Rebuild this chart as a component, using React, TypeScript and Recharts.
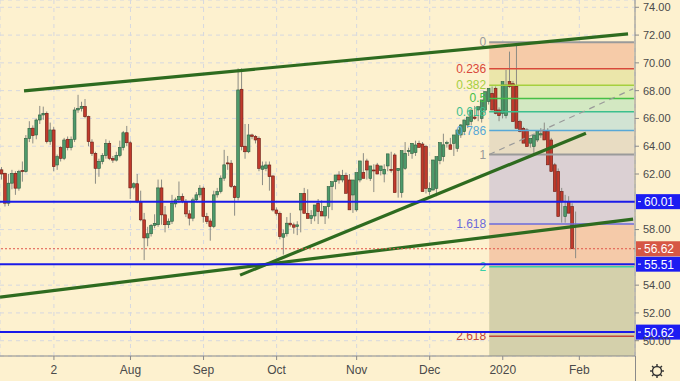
import {
  ComposedChart,
  Bar,
  XAxis,
  YAxis,
  CartesianGrid,
  ReferenceLine,
  ReferenceArea,
} from 'recharts'

// Daily candles, index 0 = mid June 2019, last = Jan 31 2020
const opens = [
  62.3, 62.05, 59.9, 61.34, 62.05, 60.98, 62.25, 62.17, 64.57, 65.3, 64.81, 65.89, 66.25, 66.37, 64.33, 65.17, 62.65, 63.9, 63.13, 64.5,
  63.9, 64.5, 66.61, 66.73, 66.85, 66.13, 64.3, 63.49, 62.41, 62.9, 63.33, 64.21, 63.13, 63.0, 63.33, 63.9, 64.97, 64.25, 61.05, 61.3,
  60.0, 58.7, 57.4, 57.7, 58.3, 58.35, 61.0, 59.06, 58.35, 58.6, 59.85, 60.14, 60.38, 60.02, 59.13, 58.82, 60.14, 60.5, 60.98, 58.94,
  58.62, 58.22, 60.5, 60.74, 61.7, 62.8, 62.78, 61.1, 60.3, 68.1, 64.0, 63.6, 64.81, 64.7, 64.57, 62.34, 62.41, 62.65, 61.86, 59.41,
  59.17, 57.45, 57.7, 58.46, 58.34, 58.22, 59.41, 60.61, 59.17, 58.8, 58.98, 59.89, 59.29, 58.98, 59.65, 61.09, 61.45, 61.93, 61.57, 61.9,
  61.57, 60.49, 59.42, 61.57, 62.1, 62.94, 61.69, 62.29, 62.65, 62.24, 62.0, 62.58, 62.34, 63.37, 62.24, 60.66, 62.41, 63.68, 63.49, 63.54,
  64.21, 64.16, 63.97, 60.73, 60.85, 60.97, 62.96, 63.25, 64.26, 64.1, 64.21, 63.85, 64.81, 65.05, 65.53, 65.77, 66.1, 66.61, 66.0, 66.61,
  67.21, 67.81, 68.17, 66.61, 66.37, 66.2, 68.65, 68.5, 68.3, 65.77, 65.29, 65.17, 64.22, 63.98, 64.45, 64.81, 65.1, 65.05, 64.45, 62.66,
  62.18, 60.74, 58.94, 60.02, 59.66, 59.18,
]
const highs = [
  62.5, 62.1, 62.0, 62.3, 62.2, 62.3, 62.9, 64.8, 65.8, 65.5, 66.0, 66.9, 66.85, 66.5, 65.7, 65.4, 63.4, 64.0, 64.6, 64.7,
  64.7, 66.8, 67.7, 67.2, 67.4, 66.2, 64.5, 63.6, 63.1, 63.5, 64.5, 64.4, 63.3, 63.6, 64.4, 65.1, 65.46, 64.4, 61.4, 62.0,
  60.8, 59.2, 58.2, 58.4, 59.1, 61.6, 61.6, 59.7, 58.8, 60.5, 60.3, 61.46, 60.6, 60.2, 59.4, 60.3, 60.7, 61.2, 61.1, 59.2,
  58.8, 60.8, 61.0, 61.9, 63.74, 63.3, 63.0, 61.2, 69.6, 69.6, 65.6, 65.6, 64.9, 64.8, 64.7, 62.9, 62.9, 62.9, 61.9, 59.6,
  59.3, 58.0, 58.9, 59.2, 58.5, 58.6, 59.5, 61.0, 60.9, 59.4, 59.5, 60.2, 60.1, 59.6, 59.8, 61.3, 61.7, 62.2, 62.3, 62.1,
  62.0, 60.6, 61.7, 62.2, 63.5, 63.1, 62.4, 62.7, 62.8, 62.4, 62.7, 62.8, 63.6, 63.5, 62.4, 62.5, 64.3, 63.9, 63.9, 64.4,
  64.4, 64.3, 64.1, 61.4, 61.6, 63.1, 63.5, 64.9, 64.4, 64.6, 64.3, 65.2, 65.6, 65.7, 66.0, 66.3, 66.9, 66.8, 67.0, 67.7,
  68.1, 68.3, 68.3, 66.8, 66.6, 69.49, 70.81, 68.7, 71.3, 65.9, 65.4, 65.3, 64.4, 64.6, 64.9, 65.3, 65.7, 65.3, 64.6, 62.8,
  62.4, 61.0, 60.5, 60.4, 59.9, 59.3,
]
const lows = [
  61.6, 59.66, 59.7, 60.9, 60.5, 60.8, 61.45, 62.1, 64.3, 64.2, 64.5, 65.6, 65.9, 64.2, 64.1, 62.2, 62.3, 62.9, 63.0, 63.7,
  63.7, 64.3, 66.4, 66.5, 66.0, 64.0, 63.3, 61.3, 61.8, 62.7, 63.1, 63.0, 62.8, 62.9, 63.2, 63.7, 64.0, 60.2, 60.9, 59.9,
  58.6, 55.8, 56.8, 57.5, 58.1, 58.2, 58.35, 57.8, 58.1, 58.4, 59.6, 59.9, 59.9, 58.9, 58.3, 58.6, 60.0, 60.3, 58.5, 58.4,
  57.2, 58.1, 60.3, 60.6, 61.5, 62.3, 61.0, 59.0, 60.1, 63.7, 63.1, 63.5, 64.5, 64.2, 62.2, 61.2, 62.2, 60.8, 59.3, 59.0,
  57.3, 56.2, 57.5, 58.2, 57.7, 57.6, 57.8, 59.2, 58.9, 58.4, 58.6, 58.4, 59.2, 58.4, 58.8, 59.4, 60.9, 61.3, 61.4, 61.3,
  60.4, 59.2, 59.3, 61.4, 62.0, 61.6, 61.5, 60.7, 62.1, 61.9, 61.4, 62.2, 62.1, 62.1, 60.3, 60.3, 62.3, 63.3, 63.1, 63.3,
  63.9, 63.7, 60.6, 60.5, 60.8, 60.4, 62.7, 62.9, 63.9, 63.8, 63.3, 63.6, 64.6, 64.8, 65.3, 65.5, 65.9, 65.8, 65.7, 66.4,
  67.0, 67.6, 66.3, 65.8, 66.0, 66.0, 68.2, 67.8, 65.5, 65.0, 64.6, 64.0, 63.9, 63.4, 64.3, 64.6, 64.8, 64.3, 62.5, 61.1,
  60.6, 58.5, 58.5, 59.5, 58.5, 55.94,
]
const closes = [
  62.0, 59.9, 61.34, 62.05, 60.98, 62.17, 62.2, 64.57, 65.29, 64.76, 65.89, 66.25, 66.37, 64.33, 65.17, 62.53, 63.25, 63.13, 64.45, 63.9,
  64.5, 66.61, 66.73, 66.85, 66.13, 64.33, 63.49, 62.41, 62.9, 63.33, 64.21, 63.13, 63.0, 63.33, 63.9, 64.97, 64.25, 61.0, 61.3, 60.0,
  58.7, 57.4, 57.7, 58.3, 58.45, 61.0, 59.06, 58.35, 58.6, 59.9, 60.14, 60.38, 60.02, 59.13, 58.82, 60.14, 60.5, 60.98, 58.94, 58.58,
  58.22, 60.5, 60.74, 61.7, 62.66, 62.78, 61.1, 60.3, 68.05, 63.97, 63.6, 64.81, 64.7, 64.45, 62.4, 62.58, 62.65, 61.81, 59.41, 59.17,
  57.5, 57.7, 58.46, 58.34, 58.17, 58.34, 60.61, 59.17, 58.8, 59.0, 59.77, 59.29, 58.98, 59.65, 61.09, 61.45, 61.93, 61.57, 61.9, 60.61,
  59.42, 61.57, 62.1, 62.94, 61.69, 62.29, 62.58, 62.24, 62.0, 62.58, 62.34, 63.45, 62.24, 60.66, 62.41, 63.68, 63.49, 63.68, 64.21, 64.09,
  63.92, 60.73, 60.97, 60.97, 63.01, 63.25, 64.26, 64.1, 64.26, 63.78, 64.81, 65.17, 65.53, 65.89, 66.1, 66.61, 66.0, 66.85, 67.33, 67.93,
  68.17, 66.61, 66.37, 66.2, 68.65, 68.41, 68.3, 65.77, 65.29, 65.05, 64.22, 63.98, 64.57, 64.81, 65.05, 64.9, 64.45, 62.66, 62.18, 60.74,
  58.94, 60.0, 59.66, 59.18, 56.62,
]

const tickIdx = [15, 37, 58, 79, 102, 123, 144, 166]
const tickLabels = ['2', 'Aug', 'Sep', 'Oct', 'Nov', 'Dec', '2020', 'Feb']
// 56.00 and 60.00 sit under the price tags, so they are left out
const yTicks = [50, 52, 54, 58, 62, 64, 66, 68, 70, 72, 74]

// Fibonacci extension, anchored at the Jan high and the retrace point
const fibTop = 71.48
const fibBottom = 63.4
const fibStart = 140.1
const fibEnd = 181.7
const fibRatios = [0, 0.236, 0.382, 0.5, 0.618, 0.786, 1, 1.618, 2, 2.618]
const fibLineColors = ['#9a9a9a', '#d9483b', '#a6cf3f', '#46bf46', '#3cbf8e', '#58a8d6', '#9a9a9a', '#6b6bdc', '#3acfa6', '#c0463a']
const fibBandColors = ['#f6cba8', '#ebe6aa', '#dcebb2', '#d3e8c2', '#d1e3d3', '#e8dcc2', '#dbd0d3', '#f5caa9', '#d4d0ab', '#d4d0ab']

const levels = [60.01, 55.51, 50.62]
const lastPrice = 56.62

// trend lines: [index, price] endpoints
const trendLines = [
  [[6.4, 67.98], [180.0, 72.08]],
  [[-0.5, 53.14], [181.45, 58.75]],
  [[68.5, 54.72], [167.9, 64.94]],
]
const guideLine = [[140.1, 63.4], [181.45, 68.13]]

const data = opens.map((o, i) => ({
  i,
  o,
  h: highs[i],
  l: lows[i],
  c: closes[i],
  range: [lows[i], highs[i]],
}))

const fibPrice = (r: number) => fibTop - r * (fibTop - fibBottom)

const Candle = (props: any) => {
  const { x, y, width, height, payload } = props
  if (!payload || height == null) return null
  const { o, h, l, c } = payload
  const top = Math.min(y, y + height)
  const hgt = Math.abs(height)
  const k = hgt / (h - l || 1)
  const cx = x + width / 2
  const yO = top + (h - o) * k
  const yC = top + (h - c) * k
  const up = c >= o
  const bodyTop = Math.min(yO, yC)
  const bodyH = Math.max(1, Math.abs(yO - yC))
  return (
    <g>
      <line x1={cx} x2={cx} y1={top} y2={top + hgt} stroke="#8c8c84" strokeWidth={1} />
      <rect
        x={cx - 1.4} y={bodyTop} width={2.8} height={bodyH}
        fill={up ? '#4e9a6b' : '#c13a2c'}
        stroke={up ? '#2b5d3d' : '#6a1a12'} strokeWidth={0.6}
      />
    </g>
  )
}

const fibLabel = (txt: string, color: string) => (p: any) => {
  const vb = p.viewBox
  if (!vb) return null
  return (
    <text x={vb.x - 3} y={vb.y + 4} textAnchor="end" fill={color} fontSize={12}>{txt}</text>
  )
}

const priceTag = (txt: string, fill: string) => (p: any) => {
  const vb = p.viewBox
  if (!vb) return null
  const rx = vb.x + vb.width + 1
  return (
    <g>
      <rect x={rx} y={vb.y - 7.5} width={45} height={15} fill={fill} />
      <line x1={rx + 2} x2={rx + 5} y1={vb.y} y2={vb.y} stroke="#fff" />
      <text x={rx + 8} y={vb.y + 4.5} fill="#fff" fontSize={12}>{txt}</text>
    </g>
  )
}

export default function App() {
  const bands = fibRatios.map((r, k) => ({
    y1: fibPrice(r),
    y2: k < fibRatios.length - 1 ? fibPrice(fibRatios[k + 1]) : 48.9,
    fill: fibBandColors[k],
  }))
  return (
    <div style={{ position: 'fixed', left: 0, top: 0, width: 680, height: 381, background: '#fdf1cf', fontFamily: '"Liberation Sans", Arial, sans-serif' }}>
      <ComposedChart width={680} height={381} data={data} margin={{ top: 0, right: 0, bottom: 0, left: 0 }}>
        <CartesianGrid stroke="#d6d8e0" strokeDasharray="4 4" />
        <XAxis
          dataKey="i" type="number" domain={[-0.5, 182]} allowDataOverflow
          ticks={tickIdx} interval={0}
          tickFormatter={(v: number) => tickLabels[tickIdx.indexOf(v)] ?? ''}
          height={25} tickSize={4} tickMargin={5}
          tick={{ fill: '#4a4a4a', fontSize: 12 }} stroke="#8a8a8a"
        />
        <YAxis
          orientation="right" type="number" domain={[48.9, 74.525]} allowDataOverflow
          ticks={yTicks} interval={0}
          tickFormatter={(v: number) => v.toFixed(2)}
          width={45} tickSize={4} tickMargin={4}
          tick={{ fill: '#4a4a4a', fontSize: 11 }} stroke="#8a8a8a"
        />
        {bands.map((b, k) => (
          <ReferenceArea key={'b' + k} x1={fibStart} x2={fibEnd} y1={b.y1} y2={b.y2} fill={b.fill} fillOpacity={1} stroke="none" />
        ))}
        {fibRatios.map((r, k) => (
          <ReferenceLine
            key={'f' + k}
            segment={[{ x: fibStart, y: fibPrice(r) }, { x: fibEnd, y: fibPrice(r) }]}
            stroke={fibLineColors[k]}
            strokeWidth={r === 0 || r === 1 ? 2 : 1.5}
            label={fibLabel(String(r), fibLineColors[k])}
          />
        ))}
        <ReferenceLine
          segment={[{ x: guideLine[0][0], y: guideLine[0][1] }, { x: guideLine[1][0], y: guideLine[1][1] }]}
          stroke="#9a9a9a" strokeDasharray="6 5" strokeWidth={1.2}
        />
        <Bar dataKey="range" barSize={3} isAnimationActive={false} shape={(p: any) => <Candle {...p} />} />
        {trendLines.map((t, k) => (
          <ReferenceLine
            key={'t' + k}
            segment={[{ x: t[0][0], y: t[0][1] }, { x: t[1][0], y: t[1][1] }]}
            stroke="#2e6b1f" strokeWidth={3.2}
          />
        ))}
        {levels.map(v => (
          <ReferenceLine key={'l' + v} y={v} stroke="#1a1ae8" strokeWidth={2} label={priceTag(v.toFixed(2), '#1c1cf2')} />
        ))}
        <ReferenceLine y={lastPrice} stroke="#e0554a" strokeWidth={1} strokeDasharray="2 2" label={priceTag(lastPrice.toFixed(2), '#d65745')} />
      </ComposedChart>
      <svg width={680} height={381} style={{ position: 'absolute', left: 0, top: 0, pointerEvents: 'none' }}>
        <line x1={635.5} x2={635.5} y1={356} y2={381} stroke="#8a8a8a" />
        <g stroke="#333" strokeWidth={1.4} fill="none">
          <circle cx={657} cy={371} r={4.5} />
          {[0, 45, 90, 135, 180, 225, 270, 315].map(a => (
            <line key={a}
              x1={657 + 4.5 * Math.cos((a * Math.PI) / 180)} y1={371 + 4.5 * Math.sin((a * Math.PI) / 180)}
              x2={657 + 7 * Math.cos((a * Math.PI) / 180)} y2={371 + 7 * Math.sin((a * Math.PI) / 180)} />
          ))}
        </g>
      </svg>
    </div>
  )
}
